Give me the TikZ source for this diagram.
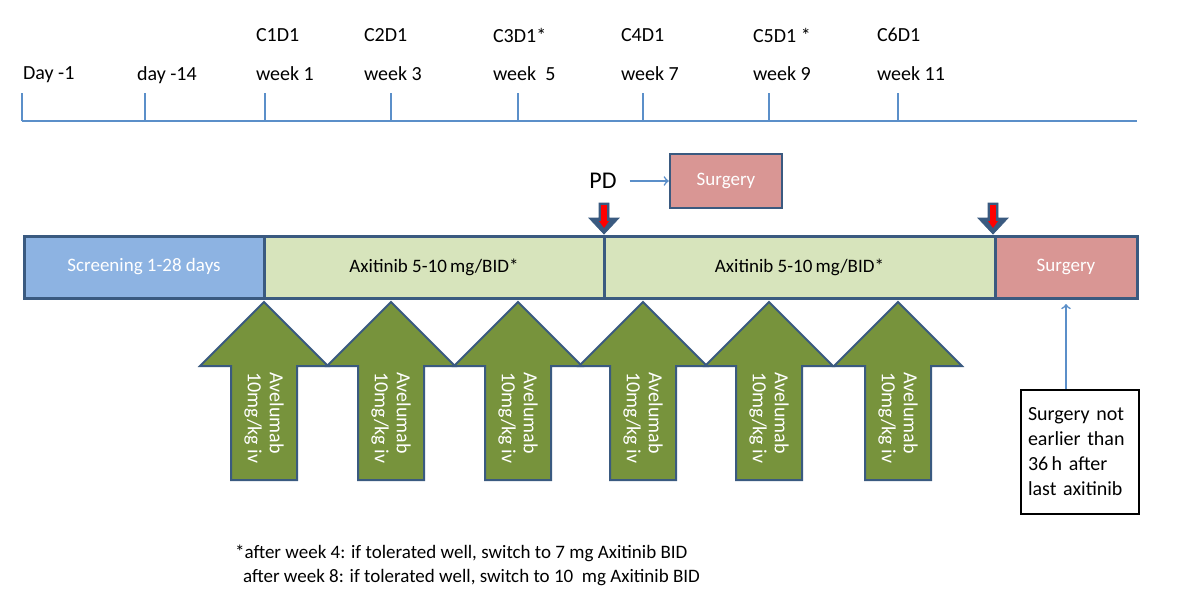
\documentclass[tikz,border=0pt]{standalone}
\usepackage{fontspec}
\setmainfont{Carlito}
\begin{document}
\begin{tikzpicture}[x=0.5pt,y=-0.5pt,
  tl/.style={draw=blue!40!cyan!60!gray,line width=1pt},
  lab/.style={font=\fontsize{10}{12}\selectfont,anchor=west},
  bar/.style={draw=bord,line width=1.5pt},
  ava/.style={draw=bord,line width=1pt,fill=avg},
  avt/.style={rotate=-90,text=white,align=left,font=\fontsize{10}{11}\selectfont},
  btxt/.style={font=\fontsize{9.5}{11}\selectfont}]
\definecolor{bord}{HTML}{3A5A80}
\definecolor{scr}{HTML}{8DB3E2}
\definecolor{axg}{HTML}{D7E4BC}
\definecolor{surg}{HTML}{D99694}
\definecolor{avg}{HTML}{77933C}
\definecolor{lblue}{HTML}{5B8FC9}
\useasboundingbox (0,0) rectangle (1200,616);
% timeline
\draw[tl,draw=lblue] (22,121) -- (1137,121);
\foreach \x in {22,145,265,391,518,643,769,898} \draw[tl,draw=lblue] (\x,121) -- (\x,93);
\node[lab] at (16,75) {Day -1};
\node[lab] at (130,75) {day -14};
\foreach \x/\w/\c in {249/week 1/C1D1,357/week 3/C2D1,486/week\ \ 5/C3D1*,614/week 7/C4D1,746/week 9/C5D1 *,870/week 11/C6D1}{
  \node[lab] at (\x,74) {\w};
  \node[lab] at (\x,35) {\c};}
% bar
\draw[bar,fill=scr] (24,236) rectangle (264,298) node[midway,text=white,btxt] (scr) {Screening 1-28 days};
\draw[bar,fill=axg] (264,236) rectangle (604,298) node[midway,btxt] (ax1) {Axitinib 5-10\,mg/BID*};
\draw[bar,fill=axg] (604,236) rectangle (995,298) node[midway,btxt] (ax2) {Axitinib 5-10\,mg/BID*};
\draw[bar,fill=surg] (995,236) rectangle (1137,298) node[midway,text=white,btxt] (s2) {Surgery};
% red arrows
\foreach \x in {604,993}{
 \draw[fill=bord,draw=bord] (\x-5,203) -- (\x+5,203) -- (\x+5,218) -- (\x+15,218) -- (\x,234) -- (\x-15,218) -- (\x-5,218) -- cycle;
 \fill[red] (\x-3,205) rectangle (\x+3,222);
 \fill[red] (\x-5,221) -- (\x+5,221) -- (\x,228) -- cycle;}
% PD and surgery
\node[font=\fontsize{12}{14}\selectfont] (pd) at (603,181) {PD};
\node[draw=bord,line width=1.2pt,fill=surg,text=white,minimum width=56pt,minimum height=27pt,btxt] (s1) at (726,181) {Surgery};
\draw[->,lblue,line width=0.8pt] (pd.east) ++(6,0) coordinate (pda) -- (s1.west);
% green arrows
\foreach \x in {264,391,518,643,769,898}{
 \draw[ava] (\x,302) -- (\x+64,366) -- (\x+33,366) -- (\x+33,480) -- (\x-33,480) -- (\x-33,366) -- (\x-64,366) -- cycle;
 \node[avt] at (\x,418) {Avelumab\\10mg/kg iv};}
% callout
\node[draw,line width=0.8pt,minimum width=59pt,minimum height=62pt,align=left,text width=52pt,font=\fontsize{10}{12.5}\selectfont] (note) at (1080,452) {Surgery not earlier than 36\,h after last axitinib};
\draw[->,lblue,line width=0.8pt] (note.north -| 1066,0) -- (1066,304) coordinate (ct);
% footnote
\node[lab,font=\fontsize{9.5}{12}\selectfont] at (228,553) {*after week 4: if tolerated well, switch to 7 mg Axitinib BID};
\node[lab,font=\fontsize{9.5}{12}\selectfont] at (236,578) {after week 8: if tolerated well, switch to 10\ \ mg Axitinib BID};
\end{tikzpicture}
\end{document}
